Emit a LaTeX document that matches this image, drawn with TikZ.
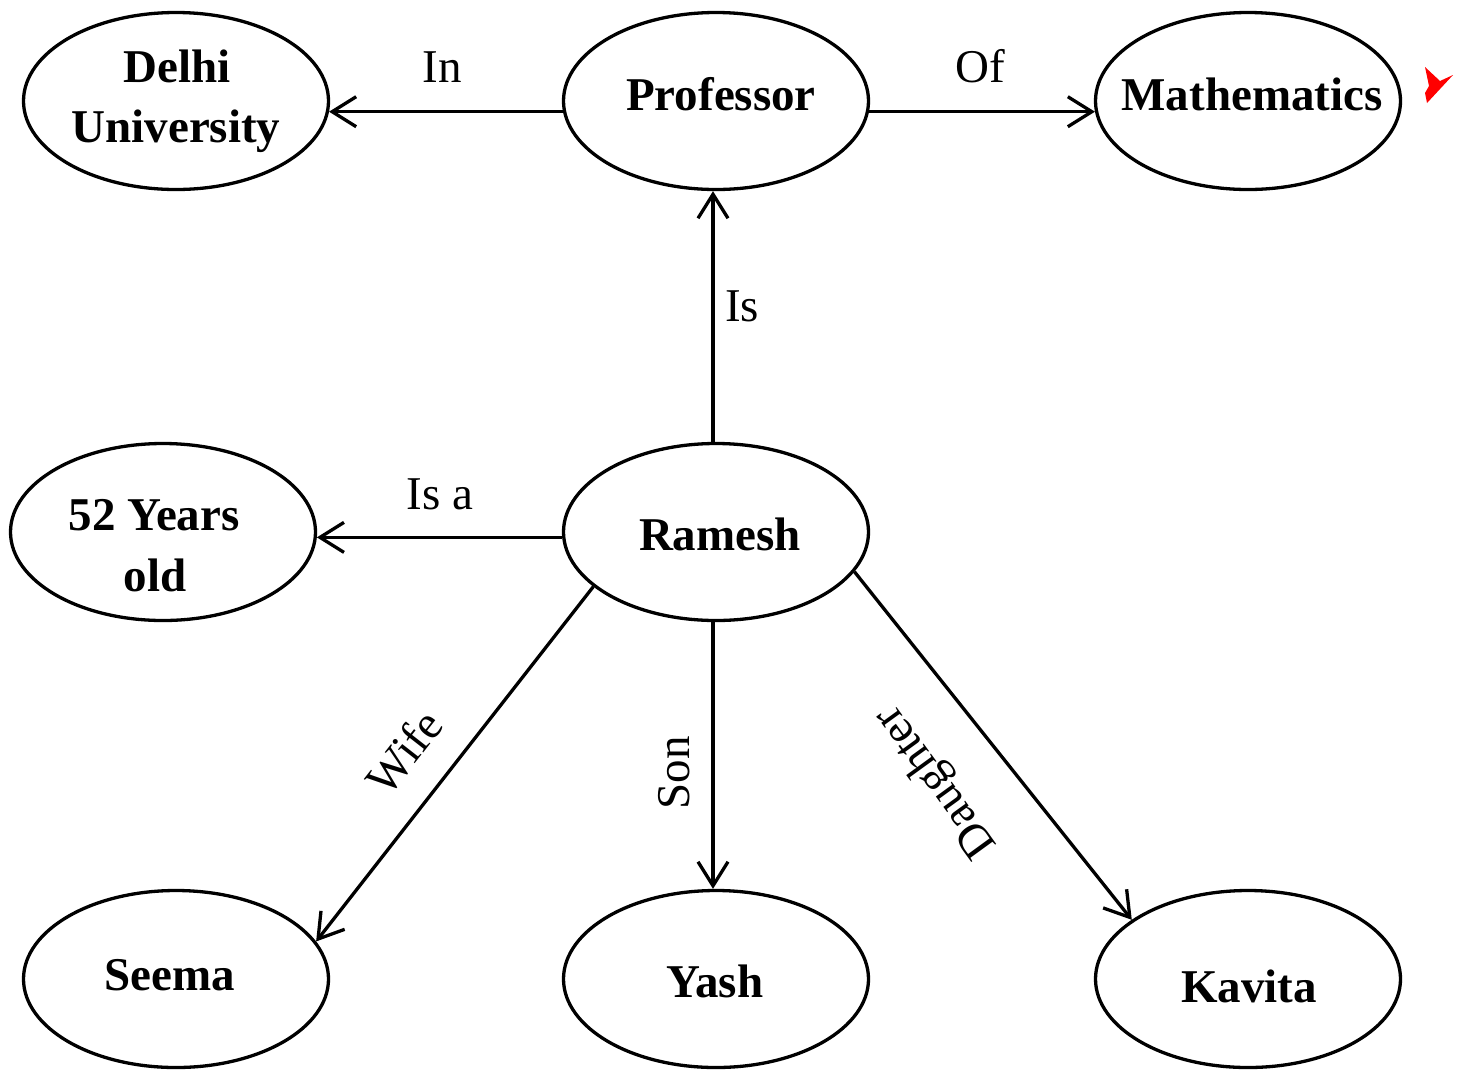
\documentclass[tikz,border=0pt]{standalone}
\usepackage{fontspec}
\setmainfont{Liberation Serif}
\usetikzlibrary{arrows.meta,shapes.geometric}
\tikzset{
  ell/.style={draw, ellipse, line width=3.3pt, inner sep=0pt, minimum width=305pt, minimum height=177pt},
  nametext/.style={anchor=base, inner sep=0pt, font=\fontsize{47}{60}\selectfont\bfseries},
  lbl/.style={inner sep=0pt, font=\fontsize{47}{50}\selectfont},
  conn/.style={line width=3.3pt, -{Straight Barb[length=24pt,width=30pt,line width=3.3pt]}}
}
\begin{document}
\begin{tikzpicture}[x=1pt,y=-1pt]
\useasboundingbox (0,0) rectangle (1462,1069);
\node[ell] (delhi) at (176,101) {};
\node[ell] (prof) at (716,101) {};
\node[ell] (math) at (1248,101) {};
\node[ell] (years) at (163,532) {};
\node[ell] (ramesh) at (716,532) {};
\node[ell] (seema) at (176,979) {};
\node[ell] (yash) at (716,979) {};
\node[ell] (kavita) at (1248,979) {};

\node[nametext] (tdelhi) at (177,82) {Delhi};
\node[nametext] (tuniv) at (176,142) {University};
\node[nametext] (tprof) at (721,110) {Professor};
\node[nametext] (tmath) at (1252,110) {Mathematics};
\node[nametext] (tyears) at (154,530) {52 Years};
\node[nametext] (told) at (155,591) {old};
\node[nametext] (tramesh) at (720,550) {Ramesh};
\node[nametext] (tseema) at (170,990) {Seema};
\node[nametext] (tyash) at (715,997) {Yash};
\node[nametext] (tkavita) at (1249,1002) {Kavita};

\draw[conn] (prof.184.5) -- (delhi.-4.5);
\draw[conn] (prof.-4.5) -- (math.184.5);
\draw[conn] ([xshift=-3pt]ramesh.north) -- ([xshift=-3pt]prof.south);
\draw[conn] (ramesh.182) -- (years.-2);
\draw[conn] (ramesh.204.5) -- (seema.15.6);
\draw[conn] ([xshift=-3pt]ramesh.south) -- ([xshift=-3pt]yash.north);
\draw[conn] (ramesh.-16) -- (kavita.153);

\node[lbl, anchor=base] (lin) at (442,82) {In};
\node[lbl, anchor=base] (lof) at (980,82) {Of};
\node[lbl, anchor=base] (lis) at (742,321) {Is};
\node[lbl, anchor=base] (lisa) at (440,509) {Is a};
\node[lbl, rotate=52] (lwife) at (404,752) {Wife};
\node[lbl, rotate=90] (lson) at (674,773) {Son};
\node[lbl, rotate=126] (ldau) at (937,781) {Daughter};

\fill[red] (1425,67) -- (1440,81) -- (1453,75) -- (1427,103) -- (1425,93) -- (1429,86) -- cycle;
\end{tikzpicture}
\end{document}
